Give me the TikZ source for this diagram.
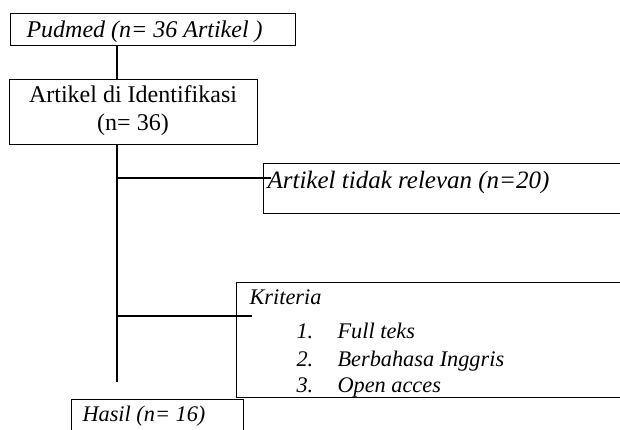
\documentclass[tikz,border=0pt]{standalone}
\usepackage{fontspec}
\setmainfont{Liberation Serif}
\begin{document}
\begin{tikzpicture}[x=1pt,y=-1pt, line width=1.1pt,
  box/.style={draw, inner sep=0pt, anchor=north west},
  txt/.style={inner sep=0pt, anchor=base west, font=\fontsize{24}{28}\selectfont\itshape},
  ltxt/.style={inner sep=0pt, anchor=base west, font=\fontsize{22.3}{27}\selectfont\itshape},
  btxt/.style={inner sep=0pt, anchor=base west, font=\fontsize{25}{28}\selectfont\itshape},
  rtxt/.style={inner sep=0pt, align=center, font=\fontsize{24}{28}\selectfont}]
\useasboundingbox (0,0) rectangle (620,429);
\clip (0,0) rectangle (620,429);
% boxes
\node[box, minimum width=285pt, minimum height=32pt] (pub) at (10,13) {};
\node[box, minimum width=248pt, minimum height=65pt] (idf) at (9,79) {};
\node[box, minimum width=420pt, minimum height=50pt] (irr) at (263,163) {};
\node[box, minimum width=420pt, minimum height=115pt] (krit) at (236,282) {};
\node[box, minimum width=172pt, minimum height=50pt] (has) at (71,399) {};
% texts
\node[txt] (tpub) at (26,37) {Pudmed (n= 36 Artikel )};
\node[rtxt] (tidf) at (133,111) {Artikel di Identifikasi\\(n= 36)};
\node[btxt] (tirr) at (267,188) {Artikel tidak relevan (n=20)};
\node[ltxt] (tkrit) at (249,304) {Kriteria};
\node[ltxt] (n1) at (296,338) {1.};
\node[ltxt] (k1) at (337,338) {Full teks};
\node[ltxt] (n2) at (296,366) {2.};
\node[ltxt] (k2) at (337,366) {Berbahasa Inggris};
\node[ltxt] (n3) at (296,392) {3.};
\node[ltxt] (k3) at (337,392) {Open acces};
\node[ltxt] (thas) at (82,421) {Hasil (n= 16)};
% connectors
\coordinate (tr) at (117,382);
\coordinate (b1) at (117,178);
\coordinate (e1) at (271,178);
\coordinate (b2) at (117,316);
\coordinate (e2) at (252,316);
\draw (pub.south -| tr) -- (idf.north -| tr);
\draw (idf.south -| tr) -- (tr);
\draw (b1) -- (e1);
\draw (b2) -- (e2);
\end{tikzpicture}
\end{document}
